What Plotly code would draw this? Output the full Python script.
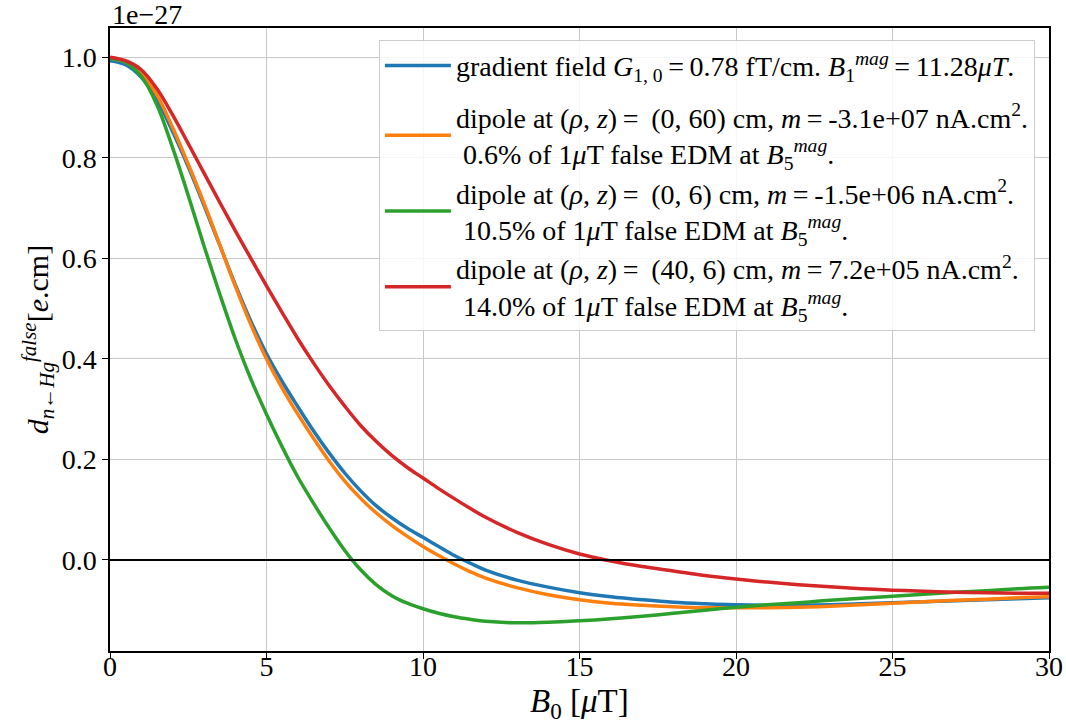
import plotly.graph_objects as go

B0 = [0, 0.5, 1, 1.5, 2, 2.5, 3, 3.5, 4, 4.5, 5, 5.5, 6, 6.5, 7, 7.5, 8, 8.5, 9, 9.5,
      10, 10.5, 11, 11.5, 12, 13, 14, 15, 16, 17, 18, 19, 20, 21, 22, 23, 24, 25,
      26, 27, 28, 29, 30]

gradient = [0.993, 0.985, 0.96, 0.915, 0.852, 0.782, 0.706, 0.627, 0.548, 0.475, 0.41,
            0.355, 0.305, 0.257, 0.213, 0.173, 0.138, 0.108, 0.084, 0.063,
            0.045, 0.027, 0.009, -0.006, -0.02, -0.04, -0.054, -0.065, -0.073, -0.079,
            -0.084, -0.087, -0.089, -0.09, -0.09, -0.089, -0.087, -0.085,
            -0.083, -0.081, -0.079, -0.077, -0.075]

dipole_0_60 = [0.998, 0.99, 0.968, 0.925, 0.86, 0.787, 0.71, 0.628, 0.545, 0.468, 0.40,
               0.342, 0.29, 0.242, 0.197, 0.157, 0.123, 0.094, 0.069, 0.047,
               0.027, 0.009, -0.008, -0.023, -0.036, -0.055, -0.069, -0.079, -0.086, -0.09,
               -0.093, -0.095, -0.095, -0.095, -0.094, -0.092, -0.089, -0.086,
               -0.083, -0.080, -0.078, -0.075, -0.073]

dipole_0_6 = [0.998, 0.99, 0.962, 0.905, 0.82, 0.725, 0.625, 0.53, 0.44, 0.36, 0.29,
              0.225, 0.165, 0.113, 0.064, 0.019, -0.019, -0.049, -0.071, -0.086,
              -0.097, -0.106, -0.113, -0.118, -0.122, -0.125, -0.124, -0.121, -0.117, -0.112,
              -0.106, -0.100, -0.094, -0.089, -0.085, -0.080, -0.076, -0.072,
              -0.068, -0.064, -0.061, -0.057, -0.054]

dipole_40_6 = [1.0, 0.993, 0.975, 0.937, 0.885, 0.828, 0.77, 0.712, 0.655, 0.6, 0.545,
               0.492, 0.44, 0.392, 0.347, 0.306, 0.268, 0.236, 0.208, 0.184,
               0.163, 0.142, 0.122, 0.103, 0.085, 0.055, 0.031, 0.012, -0.002, -0.013,
               -0.022, -0.031, -0.038, -0.044, -0.049, -0.053, -0.057, -0.06,
               -0.062, -0.064, -0.065, -0.066, -0.066]

names = [
    "gradient field <i>G</i><sub>1, 0</sub>\u2009=\u20090.78 fT/cm. <i>B</i><sub>1</sub><sup><i>mag</i></sup>\u2009=\u200911.28<i>μT</i>.",
    "dipole at (<i>ρ</i>, <i>z</i>)\u2009=\u2009 (0, 60) cm, <i>m</i>\u2009=\u2009-3.1e+07 nA.cm<sup>2</sup>.<br> 0.6% of 1<i>μ</i>T false EDM at <i>B</i><sub>5</sub><sup><i>mag</i></sup>.",
    "dipole at (<i>ρ</i>, <i>z</i>)\u2009=\u2009 (0, 6) cm, <i>m</i>\u2009=\u2009-1.5e+06 nA.cm<sup>2</sup>.<br> 10.5% of 1<i>μ</i>T false EDM at <i>B</i><sub>5</sub><sup><i>mag</i></sup>.",
    "dipole at (<i>ρ</i>, <i>z</i>)\u2009=\u2009 (40, 6) cm, <i>m</i>\u2009=\u20097.2e+05 nA.cm<sup>2</sup>.<br> 14.0% of 1<i>μ</i>T false EDM at <i>B</i><sub>5</sub><sup><i>mag</i></sup>.",
]
series = [gradient, dipole_0_60, dipole_0_6, dipole_40_6]
colors = ["#1f77b4", "#ff7f0e", "#2ca02c", "#d62728"]
groups = ["g1", "g2", "g2", "g2"]

FONT = "Liberation Serif"

fig = go.Figure()
for name, ys, c, g in zip(names, series, colors, groups):
    fig.add_trace(go.Scatter(x=B0, y=ys, mode="lines", name=name, legendgroup=g,
                             line=dict(color=c, width=3.5, shape="spline", smoothing=1.0)))

fig.add_shape(type="line", xref="paper", yref="y", x0=0, x1=1, y0=0, y1=0,
              line=dict(color="black", width=2), layer="above")

axis_common = dict(showline=True, linecolor="black", linewidth=1.5, mirror=True,
                   ticks="outside", ticklen=6, tickwidth=1.2, tickcolor="black",
                   showgrid=True, gridcolor="#c8c8c8", gridwidth=1, zeroline=False,
                   automargin=False,
                   tickfont=dict(family=FONT, size=28, color="black"))

fig.update_xaxes(range=[0, 30], tickvals=[0, 5, 10, 15, 20, 25, 30],
                 ticklabelstandoff=-16, **axis_common)
fig.update_yaxes(range=[-0.181, 1.058], tickvals=[0, 0.2, 0.4, 0.6, 0.8, 1.0], tickformat=".1f",
                 title=dict(text="<i>d</i><sub><i>n</i>←<i>Hg</i></sub><sup><i>false</i></sup>[<i>e</i>.cm]",
                            font=dict(family=FONT, size=30, color="black"), standoff=4),
                 **axis_common)

fig.add_annotation(text="<i>B</i><sub>0</sub> [<i>μ</i>T]", xref="paper", yref="paper",
                   x=0.5, y=0, xanchor="center", yanchor="middle", yshift=-52, showarrow=False,
                   font=dict(family=FONT, size=33, color="black"))

fig.add_annotation(text="1e−27", xref="paper", yref="paper", x=0, y=1,
                   xanchor="left", yanchor="bottom", showarrow=False, yshift=-4,
                   font=dict(family=FONT, size=28, color="black"))

fig.update_layout(
    width=1066, height=727,
    margin=dict(l=110, r=17, t=28, b=76),
    plot_bgcolor="white", paper_bgcolor="white",
    font=dict(family=FONT, color="black"),
    legend=dict(x=0.985, y=0.981, xanchor="right", yanchor="top",
                bgcolor="rgba(255,255,255,0.85)", bordercolor="#cccccc", borderwidth=1,
                font=dict(family=FONT, size=28, color="black"),
                itemwidth=66, tracegroupgap=12),
)

fig.write_html("out.html", config={"displayModeBar": False},
               post_script="document.body.style.margin='0px';")
